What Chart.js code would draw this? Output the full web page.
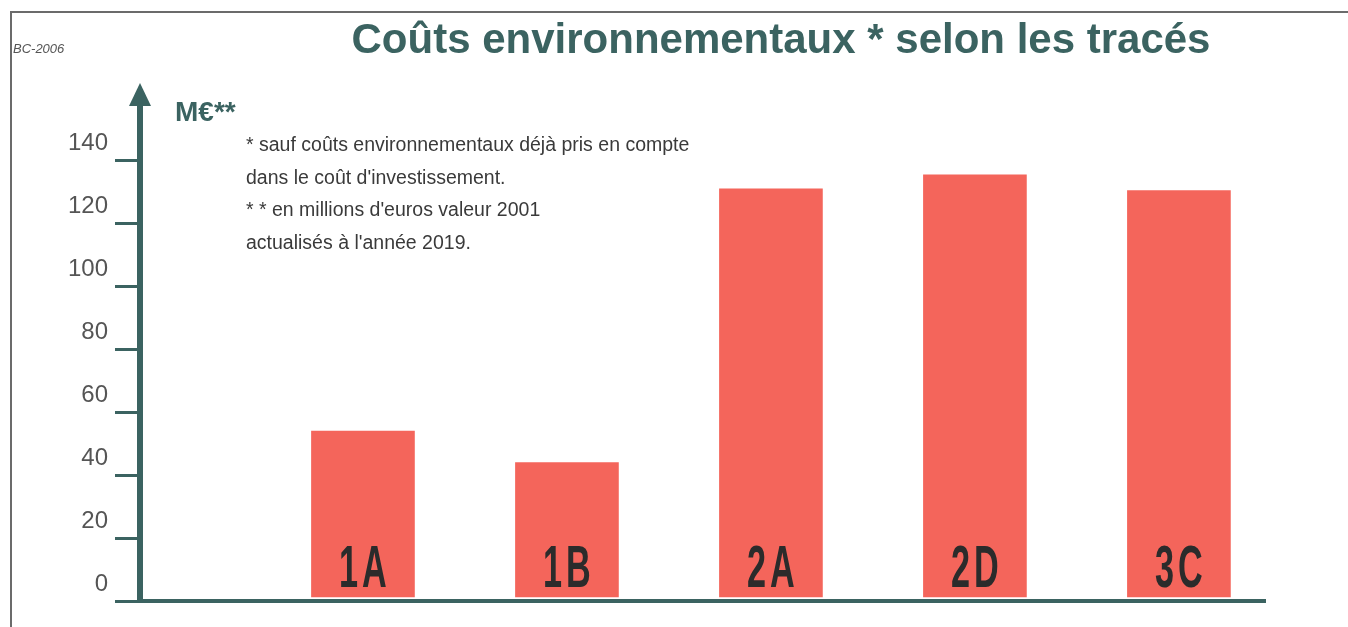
<!DOCTYPE html>
<html>
<head>
<meta charset="utf-8">
<script src="https://cdn.jsdelivr.net/npm/chart.js@4"></script>
<style>
  html, body { margin: 0; padding: 0; background: #fff; }
  #wrap { width: 1348px; height: 627px; }
</style>
</head>
<body>
<div id="wrap"><canvas id="chart" width="1348" height="627"></canvas></div>
<script>
// données
const traces = ['1A', '1B', '2A', '2D', '3C'];
const couts = [54, 44, 131, 135.5, 130.5];
const yTicks = [0, 20, 40, 60, 80, 100, 120, 140];

const teal = '#3b6361';

const habillage = {
  id: 'habillage',
  afterDraw(chart) {
    const ctx = chart.ctx;
    const area = chart.chartArea;
    ctx.save();

    // cadre
    ctx.strokeStyle = '#6b6b6b';
    ctx.lineWidth = 2;
    ctx.beginPath();
    ctx.moveTo(11, 627);
    ctx.lineTo(11, 12);
    ctx.lineTo(1348, 12);
    ctx.stroke();

    // flèche de l'axe
    ctx.fillStyle = teal;
    ctx.beginPath();
    ctx.moveTo(area.left - 11, area.top + 14);
    ctx.lineTo(area.left, area.top - 9);
    ctx.lineTo(area.left + 11, area.top + 14);
    ctx.closePath();
    ctx.fill();

    // titre
    ctx.fillStyle = teal;
    ctx.font = 'bold 42px "Liberation Sans", Arial, sans-serif';
    ctx.textAlign = 'center';
    ctx.textBaseline = 'alphabetic';
    ctx.fillText('Coûts environnementaux * selon les tracés', 781, 53);

    ctx.textAlign = 'left';
    ctx.font = 'italic 13px "Liberation Sans", Arial, sans-serif';
    ctx.fillStyle = '#555';
    ctx.fillText('BC-2006', 13, 53);

    ctx.font = 'bold 28px "Liberation Sans", Arial, sans-serif';
    ctx.fillStyle = teal;
    ctx.fillText('M€**', 175, 121);

    ctx.font = '19.5px "Liberation Sans", Arial, sans-serif';
    ctx.fillStyle = '#3a3a3a';
    const notes = [
      '* sauf coûts environnementaux déjà pris en compte',
      'dans le coût d\'investissement.',
      '* * en millions d\'euros valeur 2001',
      'actualisés à l\'année 2019.'
    ];
    notes.forEach((t, i) => ctx.fillText(t, 246, 151 + i * 32.5));

    // étiquettes dans les barres
    const meta = chart.getDatasetMeta(0);
    ctx.fillStyle = '#2b2b2b';
    ctx.font = 'bold 60px "Liberation Sans", Arial, sans-serif';
    ctx.textAlign = 'center';
    ctx.letterSpacing = '7px';
    meta.data.forEach((bar, i) => {
      ctx.save();
      ctx.translate(bar.x + 2, 587);
      ctx.scale(0.57, 1);
      ctx.fillText(traces[i], 0, 0);
      ctx.restore();
    });

    ctx.restore();
  }
};

new Chart(document.getElementById('chart'), {
  type: 'bar',
  data: {
    datasets: [{
      label: 'Coûts environnementaux',
      data: couts.map((v, i) => ({ x: i + 1, y: v })),
      backgroundColor: '#f4655b',
      barThickness: 103,
      base: 1.3
    }]
  },
  options: {
    responsive: false,
    animation: false,
    layout: { padding: { top: 92, right: 83, bottom: 26, left: 0 } },
    plugins: {
      legend: { display: false },
      tooltip: { enabled: false }
    },
    scales: {
      x: {
        type: 'linear',
        offset: false,
        min: -0.093,
        max: 5.422,
        ticks: { display: false },
        grid: { display: false },
        border: { color: teal, width: 4 },
        afterFit(scale) { scale.height = 0; }
      },
      y: {
        min: 0,
        max: 161.8,
        afterBuildTicks(scale) {
          scale.ticks = yTicks.map(v => ({ value: v }));
        },
        afterFit(scale) { scale.width = 140; },
        ticks: {
          color: '#555',
          font: { family: '"Liberation Sans", Arial, sans-serif', size: 24 },
          padding: 7,
          labelOffset: -17
        },
        grid: {
          drawOnChartArea: false,
          drawTicks: true,
          tickLength: 25,
          color: teal,
          lineWidth: 3
        },
        border: { color: teal, width: 6 }
      }
    }
  },
  plugins: [habillage]
});
</script>
</body>
</html>
